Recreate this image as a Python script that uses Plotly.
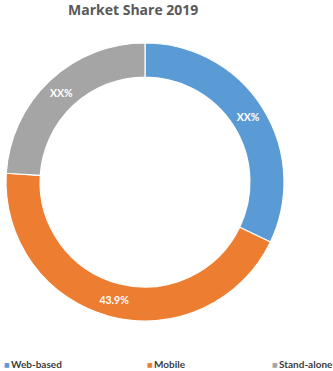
import plotly.graph_objects as go

categories = ["Web-based", "Mobile", "Stand-alone"]
values = [32.1, 43.9, 24.0]
slice_labels = ["<b>XX%</b>", "<b>43.9%</b>", "<b>XX%</b>"]
colors = ["#5B9BD5", "#ED7D31", "#A5A5A5"]
title_text = "Market Share 2019"

W, H = 333, 371
ML, MR, MT, MB = 6, 49, 43, 50
PW, PH = W - ML - MR, H - MT - MB

def px_x(x):
    return (x - ML) / PW

def px_y(y):
    return (H - MB - y) / PH

fig = go.Figure(go.Pie(
    labels=categories,
    values=values,
    text=slice_labels,
    textinfo="text",
    textposition="inside",
    insidetextorientation="horizontal",
    textfont=dict(family="Lato", size=10.5, color="white"),
    marker=dict(colors=colors, line=dict(color="white", width=1.2)),
    hole=0.755,
    sort=False,
    direction="clockwise",
    rotation=0,
    showlegend=False,
))

# title
fig.add_annotation(text="<b>%s</b>" % title_text, xref="paper", yref="paper",
                   x=px_x(133), y=px_y(9), xanchor="center", yanchor="middle",
                   showarrow=False, font=dict(family="Open Sans", size=14, color="#595959"))

# legend
legend_x = [3, 146, 271]
for cat, col, lx in zip(categories, colors, legend_x):
    fig.add_annotation(text="■", xref="paper", yref="paper", x=px_x(lx - 1), y=px_y(364),
                       xanchor="left", yanchor="middle", showarrow=False,
                       font=dict(family="DejaVu Sans", size=6, color=col))
    fig.add_annotation(text="<b>%s</b>" % cat, xref="paper", yref="paper", x=px_x(lx + 6), y=px_y(364),
                       xanchor="left", yanchor="middle", showarrow=False,
                       font=dict(family="Lato", size=10, color="#404040"))

fig.update_layout(width=W, height=H, margin=dict(l=ML, r=MR, t=MT, b=MB),
                  paper_bgcolor="white", plot_bgcolor="white")
fig.write_html("out.html")
